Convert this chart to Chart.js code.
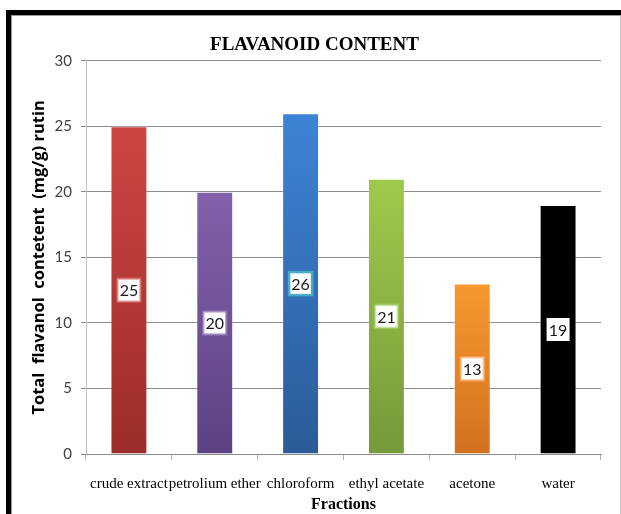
<!DOCTYPE html>
<html>
<head>
<meta charset="utf-8">
<script src="https://cdn.jsdelivr.net/npm/chart.js@4.4.1/dist/chart.umd.min.js"></script>
<style>
  html, body { margin: 0; padding: 0; background: #fff; }
  #wrap { position: relative; width: 621px; height: 514px; overflow: hidden; }
  #frame { position: absolute; left: 6px; top: 10px; width: 630px; height: 520px;
           border-left: 5px solid #000; border-top: 5px solid #000; box-sizing: border-box; }
  #inner { position: absolute; left: 0; top: 0; width: 610px; height: 520px;
           border-left: 1px solid #9a9a9a; border-top: 1px solid #9a9a9a; border-right: 1px solid #c8c8c8;
           box-sizing: border-box; }
  canvas { position: absolute; left: 0; top: 0; }
</style>
</head>
<body>
<div id="wrap">
  <div id="frame"><div id="inner"></div></div>
  <canvas id="flavChart" width="621" height="514"></canvas>
</div>
<script>
// ==================== DATA ====================
const fractions = ['crude extract', 'petrolium ether', 'chloroform', 'ethyl acetate', 'acetone', 'water'];
const flavanolValues = [25, 20, 26, 21, 13, 19];
const yTicks = [0, 5, 10, 15, 20, 25, 30];

// bar gradient colours (top, bottom) and label box borders
const barTop = ['#cd4641', '#8262ab', '#3d84d6', '#9fc94b', '#f9982f', '#000000'];
const barBottom = ['#9c2c2b', '#5c4282', '#2b5b98', '#76993a', '#d4701e', '#000000'];
const labelBorder = ['rgba(214,110,106,0.55)', 'rgba(150,120,185,0.6)', '#4bacc6', 'rgba(170,210,110,0.6)', 'rgba(250,175,110,0.6)', 'rgba(0,0,0,0)'];

function barGradient(ctx) {
  const chart = ctx.chart;
  const i = ctx.dataIndex;
  const area = chart.chartArea;
  if (!area || !chart.scales.y) return barTop[i];
  const yTop = chart.scales.y.getPixelForValue(flavanolValues[i]);
  const yBase = chart.scales.y.getPixelForValue(0);
  const g = chart.ctx.createLinearGradient(0, yTop, 0, yBase);
  g.addColorStop(0, barTop[i]);
  g.addColorStop(1, barBottom[i]);
  return g;
}

// white boxes with the value, centred in each bar
const valueBoxes = {
  id: 'valueBoxes',
  afterDatasetsDraw(chart) {
    const ctx = chart.ctx;
    const meta = chart.getDatasetMeta(0);
    const y = chart.scales.y;
    ctx.save();
    ctx.font = '16px Lato';
    ctx.textAlign = 'center';
    ctx.textBaseline = 'middle';
    meta.data.forEach((bar, i) => {
      const cy = y.getPixelForValue(flavanolValues[i] / 2);
      const cx = bar.x;
      const w = 23, h = 23;
      ctx.fillStyle = '#fff';
      ctx.fillRect(cx - w / 2, cy - h / 2, w, h);
      ctx.lineWidth = 2.5;
      ctx.strokeStyle = labelBorder[i];
      ctx.strokeRect(cx - w / 2, cy - h / 2, w, h);
      ctx.fillStyle = '#1a1a1a';
      ctx.fillText(String(flavanolValues[i]), cx, cy + 1);
    });
    ctx.restore();
  }
};

const chart = new Chart(document.getElementById('flavChart'), {
  type: 'bar',
  data: {
    labels: fractions,
    datasets: [{
      data: flavanolValues,
      backgroundColor: barGradient,
      borderColor: 'rgba(255,255,255,0.25)',
      borderWidth: 1,
      categoryPercentage: 1,
      barPercentage: 0.43
    }]
  },
  options: {
    responsive: false,
    animation: false,
    layout: { padding: { left: 28, right: 20, top: 0, bottom: 0 } },
    plugins: {
      legend: { display: false },
      tooltip: { enabled: false },
      title: {
        display: true,
        text: 'FLAVANOID CONTENT',
        color: '#000',
        font: { family: 'Liberation Serif', size: 19, weight: 'bold' },
        padding: { top: 34, bottom: 4 }
      }
    },
    scales: {
      y: {
        min: 0,
        max: 30,
        afterBuildTicks(scale) { scale.ticks = yTicks.map(v => ({ value: v })); },
        afterFit(scale) { scale.width = 58; },
        ticks: { color: '#404040', font: { family: 'Lato', size: 15 }, padding: 9 },
        grid: { color: '#8c8c8c', tickLength: 5, tickColor: '#8c8c8c' },
        border: { color: '#c0c0c0' },
        title: {
          display: true,
          text: 'Total  flavanol  contetent  (mg/g) rutin',
          color: '#000',
          font: { family: 'Open Sans', size: 16.5, weight: 'bold' },
          padding: { top: 1, bottom: 0 }
        }
      },
      x: {
        afterFit(scale) { scale.height = 60; },
        ticks: {
          color: '#000',
          font: { family: 'Liberation Serif', size: 15 },
          padding: 15,
          autoSkip: false,
          maxRotation: 0,
          minRotation: 0
        },
        grid: { display: true, drawOnChartArea: false, offset: true, tickLength: 6, color: '#b0b0b0' },
        border: { color: '#8c8c8c' },
        title: {
          display: true,
          text: 'Fractions',
          color: '#000',
          font: { family: 'Liberation Serif', size: 16, weight: 'bold' },
          padding: { top: 0, bottom: 0 }
        }
      }
    }
  },
  plugins: [valueBoxes]
});
</script>
</body>
</html>
